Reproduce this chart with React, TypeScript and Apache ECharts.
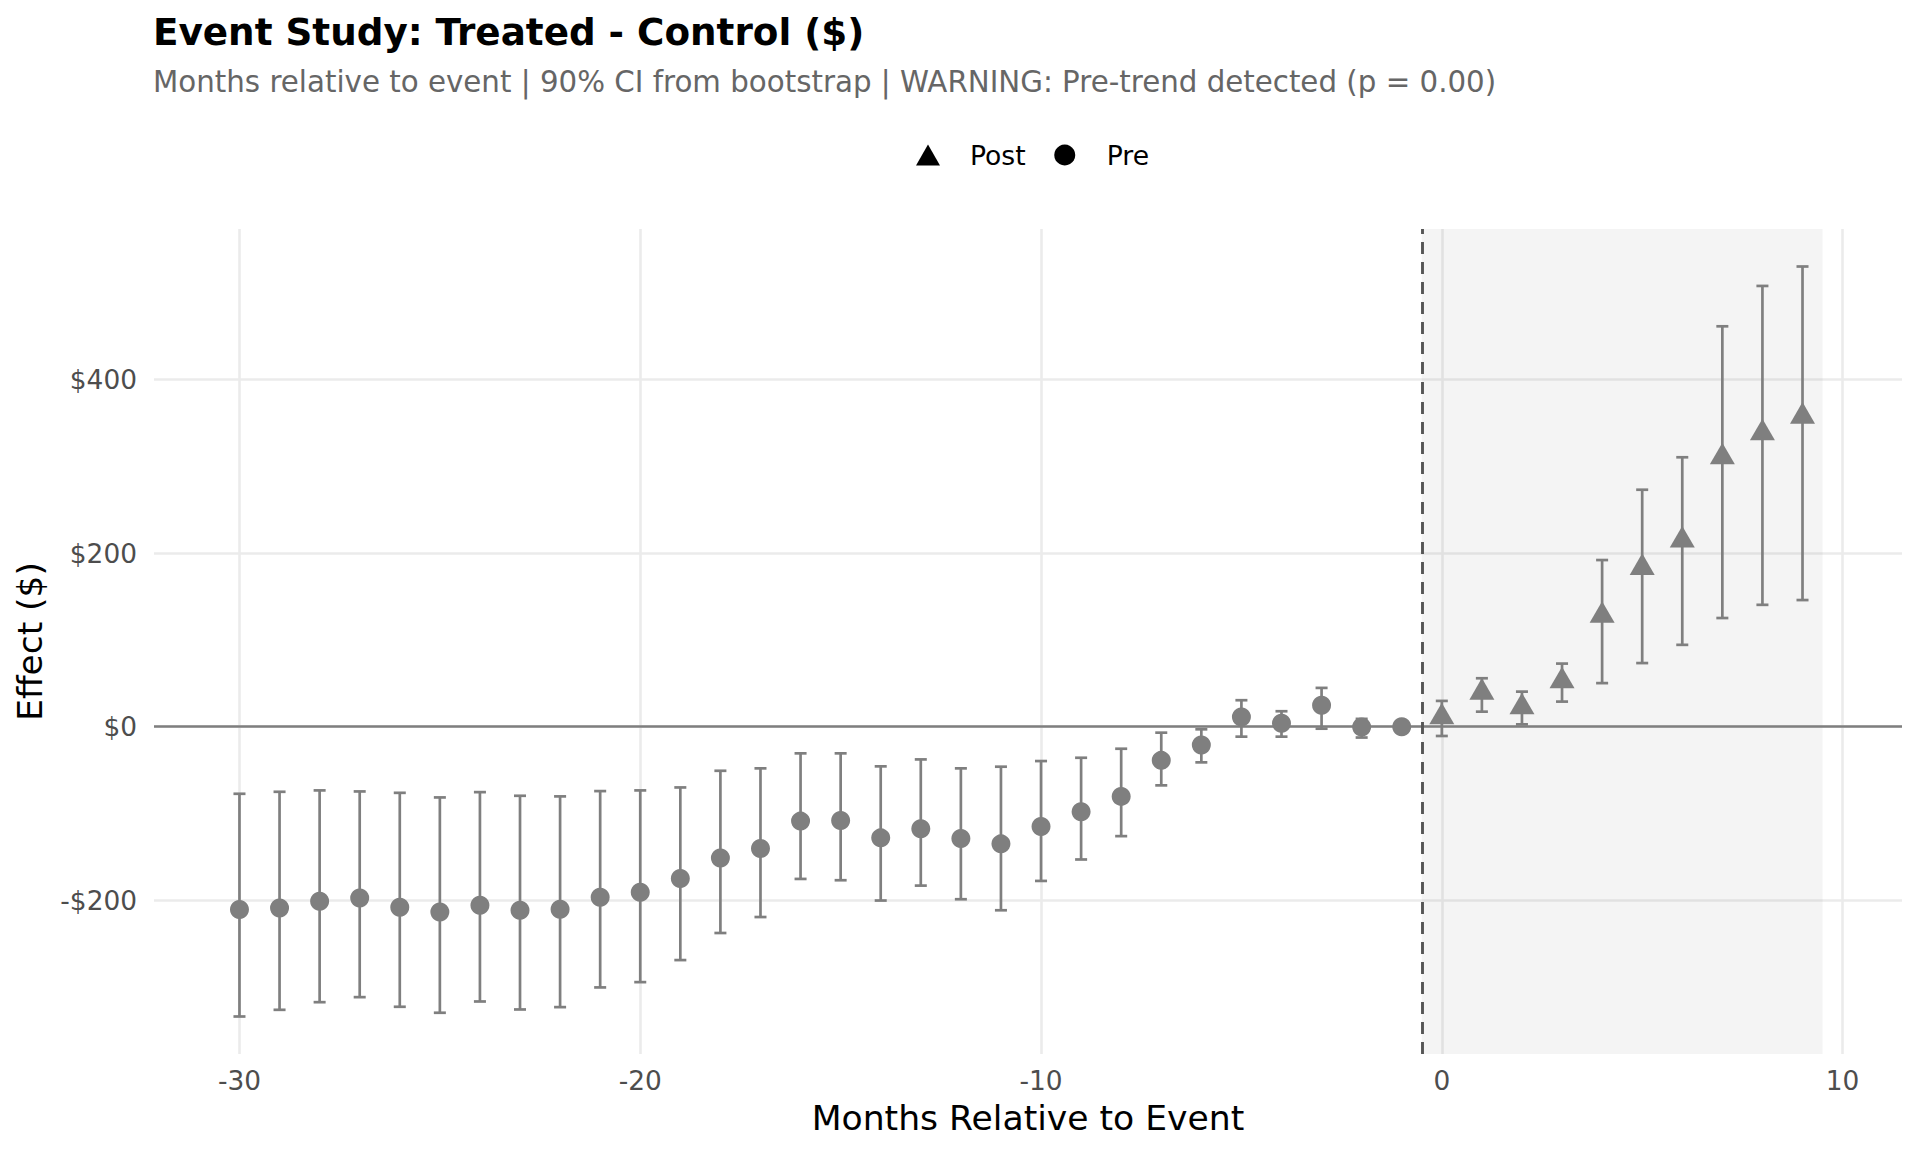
import React, { useEffect, useRef } from "react";
import * as echarts from "echarts";

// ---- data ----
const preMonths = [-30, -29, -28, -27, -26, -25, -24, -23, -22, -21, -20, -19, -18, -17, -16, -15, -14, -13, -12, -11, -10, -9, -8, -7, -6, -5, -4, -3, -2, -1];
const preEstimate = [-210.7, -208.9, -201.2, -197.3, -208.1, -213.5, -205.8, -211.5, -210.4, -196.5, -190.8, -175.0, -151.2, -140.3, -108.8, -108.0, -128.1, -117.7, -128.8, -135.0, -115.0, -98.1, -80.3, -38.8, -21.1, 11.2, 3.9, 24.7, -0.3, 0];
const preLower = [-333.9, -326.2, -317.4, -311.6, -322.7, -329.6, -316.6, -325.8, -323.1, -300.4, -294.3, -268.9, -237.7, -219.3, -175.4, -176.9, -200.3, -183.1, -198.8, -211.5, -177.7, -153.0, -126.1, -67.6, -41.1, -11.5, -11.5, -2.3, -12.5, 0];
const preUpper = [-77.3, -75.0, -73.4, -74.6, -76.2, -81.5, -75.4, -79.6, -80.3, -74.2, -73.4, -70.0, -50.8, -48.0, -30.7, -30.7, -45.7, -37.7, -48.0, -46.1, -39.6, -35.8, -25.4, -6.9, -3.0, 30.5, 17.8, 44.7, 9.0, 0];

const postMonths = [0, 1, 2, 3, 4, 5, 6, 7, 8, 9];
const postEstimate = [11.0, 39.4, 22.5, 52.5, 128.0, 183.2, 214.7, 310.6, 338.2, 357.4];
const postLower = [-10.7, 17.3, 2.7, 28.9, 50.2, 73.3, 94.3, 125.2, 140.4, 145.9];
const postUpper = [29.7, 55.8, 40.4, 72.7, 192.0, 273.0, 310.4, 461.3, 507.8, 530.2];

const xTickStep = 10;
const yTickStep = 200;
const shadeStart = -0.5;
const shadeEnd = 9.5;
const errorBarWidth = 0.3;

const titleText = "Event Study: Treated - Control ($)";
const subtitleText = "Months relative to event | 90% CI from bootstrap | WARNING: Pre-trend detected (p = 0.00)";
const xTitle = "Months Relative to Event";
const yTitle = "Effect ($)";
const seriesNames = ["Post", "Pre"];

const FONT = "DejaVu Sans";
const POINT_GREY = "#7f7f7f";

export default function App() {
  const ref = useRef<HTMLDivElement>(null);

  useEffect(() => {
    if (!ref.current) return;
    const chart = echarts.init(ref.current, undefined, { renderer: "svg" });

    const allLower = [...preLower, ...postLower];
    const allUpper = [...preUpper, ...postUpper];
    const yLo = Math.min(...allLower);
    const yHi = Math.max(...allUpper);
    const ySpan = yHi - yLo;
    const yMin = yLo - 0.05 * ySpan;
    const yMax = yHi + 0.05 * ySpan;

    const xLo = Math.min(...preMonths) - errorBarWidth / 2;
    const xHi = shadeEnd;
    const xSpan = xHi - xLo;
    const xMin = xLo - 0.05 * xSpan;
    const xMax = xHi + 0.05 * xSpan;

    const errData = [
      ...preMonths.map((m, i) => [m, preLower[i], preUpper[i]]),
      ...postMonths.map((m, i) => [m, postLower[i], postUpper[i]]),
    ];

    const triW = 25;
    const triH = 21.6;

    const option: any = {
      animation: false,
      backgroundColor: "#ffffff",
      title: [
        {
          text: titleText,
          left: 153,
          top: 13.5,
          padding: 0,
          textStyle: { fontFamily: FONT, fontWeight: "bold", fontSize: 37.3, color: "#000000" },
        },
        {
          text: subtitleText,
          left: 153,
          top: 67,
          padding: 0,
          textStyle: { fontFamily: FONT, fontWeight: "normal", fontSize: 29.3, color: "#666666" },
        },
      ],
      legend: {
        left: 916,
        top: 141.5,
        padding: 0,
        itemWidth: 24,
        itemHeight: 21,
        itemGap: 28.6,
        selectedMode: false,
        textStyle: { fontFamily: FONT, fontSize: 26.6, color: "#000000", padding: [0, 0, 0, 25] },
        data: [
          { name: seriesNames[0], icon: "triangle", itemStyle: { color: "#000000" } },
          { name: seriesNames[1], icon: "circle", itemStyle: { color: "#000000" } },
        ],
      },
      grid: { left: 154, right: 18, top: 229, bottom: 98, containLabel: false },
      xAxis: {
        type: "value",
        min: xMin,
        max: xMax,
        splitNumber: 5,
        minInterval: xTickStep,
        maxInterval: xTickStep,
        name: xTitle,
        nameLocation: "middle",
        nameGap: 46.5,
        nameTextStyle: { fontFamily: FONT, fontSize: 34.6, color: "#000000" },
        axisLine: { show: false },
        axisTick: { show: false },
        axisLabel: {
          fontFamily: FONT,
          fontSize: 26.4,
          color: "#4d4d4d",
          margin: 13,
          showMinLabel: false,
          showMaxLabel: false,
        },
        splitLine: {
          show: true,
          showMinLine: false,
          showMaxLine: false,
          lineStyle: { color: "#ebebeb", width: 2.6 },
        },
      },
      yAxis: {
        type: "value",
        min: yMin,
        max: yMax,
        splitNumber: 5,
        minInterval: yTickStep,
        maxInterval: yTickStep,
        name: yTitle,
        nameLocation: "middle",
        nameRotate: 90,
        nameGap: 107,
        nameTextStyle: { fontFamily: FONT, fontSize: 34.4, color: "#000000" },
        axisLine: { show: false },
        axisTick: { show: false },
        axisLabel: {
          fontFamily: FONT,
          fontSize: 26.4,
          color: "#4d4d4d",
          margin: 17,
          showMinLabel: false,
          showMaxLabel: false,
          formatter: (v: number) => (v < 0 ? "-$" + Math.abs(v) : "$" + v),
        },
        splitLine: {
          show: true,
          showMinLine: false,
          showMaxLine: false,
          lineStyle: { color: "#ebebeb", width: 2.6 },
        },
      },
      series: [
        {
          name: "__annotations",
          type: "line",
          data: [],
          z: 2,
          silent: true,
          markArea: {
            silent: true,
            itemStyle: { color: "rgba(128,128,128,0.085)" },
            data: [[{ xAxis: shadeStart }, { xAxis: shadeEnd }]],
          },
          markLine: {
            silent: true,
            symbol: "none",
            label: { show: false },
            data: [
              { yAxis: 0, lineStyle: { color: POINT_GREY, width: 2.7, type: "solid" } },
              { xAxis: shadeStart, lineStyle: { color: "#555555", width: 2.9, type: [12, 8] } },
            ],
          },
        },
        {
          name: "__errorbars",
          type: "custom",
          z: 3,
          silent: true,
          encode: { x: 0, y: [1, 2] },
          data: errData,
          renderItem: (params: any, api: any) => {
            const x = api.value(0);
            const lo = api.value(1);
            const hi = api.value(2);
            const pLo = api.coord([x, lo]);
            const pHi = api.coord([x, hi]);
            const hw = api.size([errorBarWidth, 0])[0] / 2;
            const style = { stroke: POINT_GREY, lineWidth: 2.7, fill: null };
            return {
              type: "group",
              children: [
                { type: "line", shape: { x1: pLo[0], y1: pHi[1], x2: pLo[0], y2: pLo[1] }, style },
                { type: "line", shape: { x1: pLo[0] - hw, y1: pHi[1], x2: pLo[0] + hw, y2: pHi[1] }, style },
                { type: "line", shape: { x1: pLo[0] - hw, y1: pLo[1], x2: pLo[0] + hw, y2: pLo[1] }, style },
              ],
            };
          },
        },
        {
          name: seriesNames[1],
          type: "scatter",
          z: 4,
          symbol: "circle",
          symbolSize: 19,
          itemStyle: { color: POINT_GREY, opacity: 1 },
          data: preMonths.map((m, i) => [m, preEstimate[i]]),
        },
        {
          name: seriesNames[0],
          type: "scatter",
          z: 4,
          symbol: "triangle",
          symbolSize: [triW, triH],
          symbolOffset: [0, -triH / 6],
          itemStyle: { color: POINT_GREY, opacity: 1 },
          data: postMonths.map((m, i) => [m, postEstimate[i]]),
        },
      ],
    };

    chart.setOption(option);
    return () => chart.dispose();
  }, []);

  return (
    <div
      ref={ref}
      style={{ position: "fixed", left: 0, top: 0, width: 1920, height: 1152, background: "#ffffff" }}
    />
  );
}
